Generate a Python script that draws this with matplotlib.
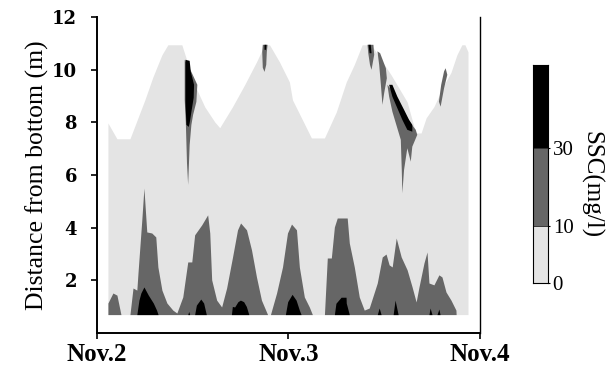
import matplotlib
matplotlib.use("Agg")
import matplotlib.pyplot as plt

plt.rcParams['font.family'] = ['Liberation Serif', 'DejaVu Serif']

# time in days after Nov.2 00:00, height in m above bottom
bottom_z = 0.7

# water surface (top of the <10 mg/l region)
surface_t = [0.057, 0.104, 0.172, 0.250, 0.292, 0.339, 0.370, 0.443, 0.510, 0.563,
             0.615, 0.641, 0.656, 0.708, 0.771, 0.833, 0.875, 0.901, 0.953, 1.005,
             1.021, 1.073, 1.120, 1.188, 1.250, 1.302, 1.344, 1.385, 1.432, 1.536,
             1.620, 1.665, 1.693, 1.719, 1.760, 1.813, 1.849, 1.880, 1.906, 1.922,
             1.938]
surface_z = [7.98, 7.38, 7.38, 8.86, 9.73, 10.57, 10.95, 10.95, 9.43, 8.59,
             8.02, 7.80, 7.98, 8.60, 9.43, 10.30, 10.95, 10.95, 10.30, 9.54,
             8.86, 8.10, 7.41, 7.41, 8.40, 9.54, 10.20, 10.95, 10.95, 9.81,
             8.78, 7.60, 7.60, 8.17, 8.60, 9.43, 9.90, 10.57, 10.95, 10.95,
             10.68]

# near-bed layer with SSC 10-30 mg/l
band_t = [0.057, 0.083, 0.104, 0.125, 0.172, 0.188, 0.208, 0.214, 0.234, 0.245,
          0.260, 0.286, 0.307, 0.318, 0.339, 0.365, 0.396, 0.417, 0.448, 0.474,
          0.495, 0.510, 0.547, 0.578, 0.589, 0.599, 0.625, 0.651, 0.677, 0.708,
          0.734, 0.750, 0.781, 0.807, 0.833, 0.859, 0.891, 0.906, 0.938, 0.969,
          0.995, 1.016, 1.042, 1.057, 1.083, 1.109, 1.125, 1.188, 1.203, 1.224,
          1.240, 1.255, 1.307, 1.318, 1.344, 1.370, 1.396, 1.422, 1.464, 1.490,
          1.510, 1.526, 1.542, 1.563, 1.589, 1.620, 1.646, 1.667, 1.682, 1.708,
          1.724, 1.734, 1.760, 1.786, 1.802, 1.823, 1.849, 1.875, 1.876]
band_z = [1.14, 1.52, 1.44, 0.70, 0.70, 1.71, 1.63, 2.28, 4.30, 5.51,
          3.84, 3.80, 3.65, 2.51, 1.63, 1.14, 0.87, 0.76, 1.37, 2.70,
          2.70, 3.73, 4.11, 4.49, 3.80, 2.02, 1.25, 0.99, 1.71, 2.89,
          3.92, 4.18, 3.92, 3.16, 2.13, 1.25, 0.70, 0.70, 1.52, 2.51,
          3.80, 4.14, 3.92, 2.51, 1.37, 0.99, 0.70, 0.70, 2.85, 2.85,
          4.03, 4.37, 4.37, 3.42, 2.51, 1.37, 0.87, 0.95, 1.90, 2.89,
          3.00, 2.59, 2.51, 3.61, 2.89, 2.40, 1.75, 1.18, 1.75, 2.66,
          3.08, 1.90, 1.83, 2.21, 2.13, 1.56, 1.25, 0.87, 0.70]

# near-bed cores with SSC > 30 mg/l
core_t = [0.208, 0.219, 0.229, 0.245, 0.268, 0.294, 0.311, 0.319,
          0.474, 0.479, 0.484,
          0.510, 0.519, 0.542, 0.557, 0.571,
          0.702, 0.707, 0.719, 0.736, 0.749, 0.766, 0.780, 0.793,
          0.984, 0.996, 1.019, 1.040, 1.057, 1.066,
          1.240, 1.248, 1.275, 1.301, 1.302, 1.318,
          1.464, 1.474, 1.484,
          1.547, 1.557, 1.573,
          1.734, 1.740, 1.750,
          1.776, 1.786, 1.792]
core_z = [0.70, 1.25, 1.52, 1.75, 1.44, 1.14, 0.87, 0.70,
          0.70, 0.82, 0.70,
          0.70, 1.06, 1.29, 1.14, 0.70,
          0.70, 1.01, 0.99, 1.19, 1.25, 1.19, 1.01, 0.70,
          0.70, 1.19, 1.47, 1.25, 0.87, 0.70,
          0.70, 1.13, 1.36, 1.36, 1.14, 0.70,
          0.70, 0.95, 0.70,
          0.70, 1.25, 0.70,
          0.70, 0.95, 0.70,
          0.70, 0.91, 0.70]

# turbid streaks near the surface (10-30 mg/l outline, >30 mg/l core)
streak_a_t = [0.458, 0.493, 0.524, 0.519, 0.502, 0.493, 0.484, 0.476, 0.470, 0.464, 0.458]
streak_a_z = [10.38, 9.92, 9.43, 8.78, 8.29, 7.91, 7.15, 5.63, 6.46, 7.98, 8.86]
core_a_t = [0.462, 0.484, 0.490, 0.507, 0.505, 0.493, 0.484, 0.479, 0.467, 0.462]
core_a_z = [10.38, 10.34, 9.92, 9.43, 8.94, 8.40, 7.98, 7.83, 7.91, 8.78]

streak_b_t = [0.866, 0.891, 0.887, 0.884, 0.875, 0.866, 0.863]
streak_b_z = [10.95, 10.95, 10.68, 10.19, 9.92, 10.08, 10.68]
core_b_t = [0.875, 0.885, 0.883, 0.875]
core_b_z = [10.95, 10.95, 10.76, 10.76]

streak_c_t = [1.413, 1.444, 1.448, 1.434, 1.426, 1.417]
streak_c_z = [10.95, 10.95, 10.57, 10.00, 10.19, 10.63]
core_c_t = [1.418, 1.430, 1.434, 1.424]
core_c_z = [10.95, 10.95, 10.63, 10.63]

streak_d_t = [1.465, 1.479, 1.509, 1.514, 1.500, 1.491, 1.483, 1.474]
streak_d_z = [10.70, 10.63, 10.06, 9.68, 9.11, 8.67, 9.43, 10.19]

streak_e_t = [1.517, 1.552, 1.595, 1.639, 1.665, 1.673, 1.647, 1.639, 1.621, 1.604,
              1.595, 1.592, 1.587, 1.561, 1.543, 1.526]
streak_e_z = [9.43, 9.11, 8.48, 7.97, 7.72, 7.53, 7.08, 6.51, 7.02, 6.20,
              5.31, 6.20, 7.34, 7.97, 8.41, 8.98]
core_e_t = [1.526, 1.543, 1.569, 1.604, 1.630, 1.647, 1.647, 1.621, 1.595, 1.569, 1.543]
core_e_z = [9.43, 9.43, 8.98, 8.48, 8.10, 7.91, 7.65, 7.72, 8.10, 8.54, 8.98]

streak_f_t = [1.821, 1.830, 1.813, 1.795, 1.786, 1.798, 1.813]
streak_f_z = [10.06, 9.81, 9.30, 8.60, 8.79, 9.43, 9.94]

levels = ['0', '10', '30']
level_share = [0.26, 0.36, 0.38]  # drawn height of each colour-bar segment
colors = ['#e4e4e4', '#666666', '#000000']

fig = plt.figure(figsize=(6.16, 3.73), dpi=100)
ax = fig.add_axes([0.1575, 0.1072, 0.6215, 0.8468])

ax.fill_between(surface_t, bottom_z, surface_z, color=colors[0], lw=0)
ax.fill_between(band_t, bottom_z, band_z, color=colors[1], lw=0)
ax.fill_between(core_t, bottom_z, core_z, color=colors[2], lw=0)
for st, sz in [(streak_a_t, streak_a_z), (streak_b_t, streak_b_z), (streak_c_t, streak_c_z),
               (streak_d_t, streak_d_z), (streak_e_t, streak_e_z), (streak_f_t, streak_f_z)]:
    ax.fill(st, sz, color=colors[1], lw=0)
for ct, cz in [(core_a_t, core_a_z), (core_b_t, core_b_z), (core_c_t, core_c_z), (core_e_t, core_e_z)]:
    ax.fill(ct, cz, color=colors[2], lw=0)

ax.set_xlim(0, 2)
ax.set_ylim(0, 12)
ax.set_xticks([0, 1, 2])
ax.set_xticklabels(['Nov.2', 'Nov.3', 'Nov.4'], fontsize=18, fontweight='bold')
ax.set_yticks([2, 4, 6, 8, 10, 12])
ax.set_yticklabels(['2', '4', '6', '8', '10', '12'], fontsize=13, fontweight='bold',
                   family='DejaVu Serif')
ax.tick_params(direction='out', length=4.5, width=1.2)
ax.tick_params(axis='y', pad=10)
ax.tick_params(axis='x', pad=3)
ax.spines['top'].set_visible(False)
for s in ['left', 'bottom']:
    ax.spines[s].set_linewidth(1.4)
ax.spines['right'].set_linewidth(1.0)
ax.set_ylabel('Distance from bottom (m)', fontsize=18.5, labelpad=2)

# colour bar
cax = fig.add_axes([0.865, 0.2413, 0.0244, 0.584])
base = 0
for share, c in zip(level_share, colors):
    cax.bar(0.5, share, width=1, bottom=base, color=c, edgecolor='#333333', lw=0.6)
    base += share
cax.set_xlim(0, 1)
cax.set_ylim(0, 1)
cax.set_xticks([])
ticks = [0, level_share[0], level_share[0] + level_share[1]]
cax.yaxis.tick_right()
cax.set_yticks(ticks)
cax.set_yticklabels(levels, fontsize=15)
cax.tick_params(axis='y', length=1.5, pad=2)
for s in cax.spines.values():
    s.set_linewidth(0.8)
cax.set_ylabel('SSC(mg/l)', fontsize=18, rotation=270, labelpad=21)
cax.yaxis.set_label_position('right')
cax.yaxis.label.set_y(0.45)

fig.savefig('out.png', dpi=100)
